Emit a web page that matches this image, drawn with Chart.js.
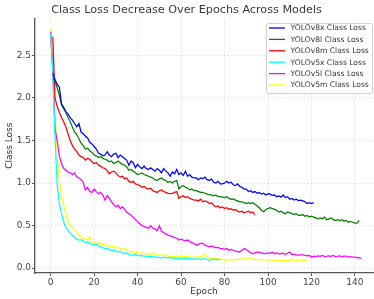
<!DOCTYPE html>
<html>
<head>
<meta charset="utf-8">
<script src="https://cdn.jsdelivr.net/npm/chart.js@4/dist/chart.umd.min.js"></script>
<style>
  html, body { margin: 0; padding: 0; background: #fff; }
  #wrap { width: 374px; height: 299px; }
</style>
</head>
<body>
<div id="wrap"><canvas id="c" width="374" height="299"></canvas></div>
<script>
// ---- Data ----
const seriesNames = ["YOLOv8x Class Loss", "YOLOv8l Class Loss", "YOLOv8m Class Loss",
                     "YOLOv5x Class Loss", "YOLOv5l Class Loss", "YOLOv5m Class Loss"];
const seriesColors = ["blue", "green", "red", "cyan", "magenta", "yellow"];
const firstEpoch = [1, 1, 1, 0, 0, 0];

const yolov8x = [2.29,2.22,2.16,2.13,1.93,1.89,1.84,1.81,1.77,1.74,1.70,1.66,1.70,1.60,1.58,1.55,1.53,1.48,1.46,1.43,
  1.40,1.35,1.34,1.32,1.33,1.37,1.33,1.31,1.34,1.35,1.30,1.33,1.31,1.29,1.27,1.21,1.26,1.24,1.18,1.22,
  1.19,1.17,1.20,1.17,1.16,1.18,1.16,1.14,1.17,1.15,1.12,1.17,1.14,1.12,1.08,1.13,1.11,1.16,1.10,1.12,
  1.09,1.14,1.08,1.10,1.07,1.06,1.06,1.04,1.06,1.05,1.07,1.04,1.03,1.05,1.01,1.00,1.02,0.99,0.99,1.00,
  1.02,1.00,1.01,0.98,0.97,0.99,0.96,0.95,0.93,0.93,0.90,0.91,0.89,0.90,0.88,0.89,0.87,0.88,0.86,0.875,
  0.87,0.855,0.86,0.84,0.85,0.835,0.86,0.83,0.84,0.81,0.82,0.80,0.81,0.795,0.80,0.79,0.78,0.76,0.77,0.76,0.77];
const yolov8l = [2.23,2.20,2.12,2.03,1.92,1.87,1.83,1.77,1.72,1.66,1.60,1.57,1.52,1.47,1.44,1.40,1.41,1.38,1.36,1.33,
  1.32,1.30,1.31,1.29,1.28,1.27,1.25,1.26,1.23,1.24,1.26,1.24,1.22,1.21,1.19,1.15,1.16,1.14,1.12,1.10,
  1.11,1.12,1.10,1.09,1.08,1.07,1.06,1.04,1.03,1.05,1.06,1.04,1.03,1.01,1.02,1.00,1.02,1.03,0.93,0.96,
  0.97,0.95,0.94,0.92,0.93,0.91,0.91,0.90,0.89,0.89,0.88,0.87,0.86,0.86,0.85,0.86,0.84,0.84,0.835,0.83,
  0.84,0.82,0.81,0.815,0.80,0.79,0.78,0.78,0.77,0.76,0.77,0.76,0.77,0.75,0.73,0.71,0.68,0.66,0.69,0.70,
  0.71,0.70,0.69,0.68,0.66,0.67,0.65,0.64,0.66,0.65,0.64,0.63,0.64,0.62,0.62,0.63,0.61,0.62,0.60,0.61,
  0.60,0.59,0.58,0.59,0.58,0.60,0.57,0.58,0.59,0.57,0.56,0.57,0.56,0.57,0.55,0.56,0.54,0.55,0.54,0.53,
  0.53,0.56];
const yolov8m = [2.72,2.00,1.90,1.83,1.77,1.72,1.66,1.58,1.50,1.44,1.40,1.37,1.33,1.31,1.30,1.27,1.29,1.28,1.25,1.23,
  1.24,1.21,1.20,1.18,1.17,1.15,1.11,1.13,1.14,1.12,1.09,1.07,1.08,1.05,1.06,1.02,1.01,1.02,0.99,0.98,
  0.97,0.95,0.96,0.94,0.93,0.94,0.91,0.90,0.89,0.91,0.92,0.90,0.89,0.88,0.875,0.88,0.89,0.90,0.82,0.84,
  0.85,0.83,0.84,0.82,0.81,0.80,0.80,0.79,0.81,0.78,0.79,0.78,0.76,0.77,0.74,0.72,0.73,0.71,0.72,0.70,
  0.71,0.69,0.70,0.68,0.69,0.67,0.66,0.67,0.65,0.66,0.67,0.65,0.66,0.63];
const yolov5x = [2.76,2.30,1.55,0.98,0.76,0.64,0.54,0.48,0.44,0.41,0.39,0.36,0.34,0.33,0.335,0.32,0.30,0.31,0.29,0.28,
  0.27,0.28,0.26,0.25,0.24,0.23,0.235,0.22,0.21,0.215,0.20,0.19,0.20,0.18,0.17,0.18,0.16,0.155,0.15,0.16,
  0.15,0.145,0.15,0.14,0.145,0.135,0.14,0.13,0.135,0.13,0.125,0.12,0.13,0.125,0.12,0.125,0.115,0.12,0.11,0.12,
  0.115,0.11,0.12,0.11,0.115,0.10,0.11,0.105,0.11,0.10,0.105,0.11,0.10,0.095,0.10,0.105,0.10,0.10,0.105];
const yolov5l = [2.78,2.30,1.64,1.50,1.32,1.23,1.17,1.15,1.13,1.12,1.10,1.12,1.07,1.06,1.04,1.01,0.92,0.95,0.90,0.89,
  0.93,0.90,0.875,0.89,0.86,0.80,0.855,0.82,0.78,0.75,0.72,0.74,0.70,0.72,0.69,0.66,0.64,0.62,0.60,0.57,
  0.55,0.52,0.50,0.49,0.48,0.47,0.50,0.47,0.46,0.44,0.50,0.43,0.42,0.40,0.39,0.38,0.37,0.36,0.35,0.33,
  0.34,0.33,0.32,0.33,0.31,0.30,0.29,0.27,0.28,0.29,0.29,0.27,0.26,0.25,0.26,0.25,0.24,0.245,0.23,0.23,
  0.22,0.23,0.21,0.22,0.21,0.20,0.195,0.19,0.21,0.23,0.22,0.20,0.18,0.17,0.18,0.19,0.185,0.18,0.17,0.17,
  0.18,0.175,0.19,0.17,0.18,0.165,0.17,0.175,0.16,0.175,0.19,0.16,0.165,0.155,0.15,0.16,0.155,0.15,0.145,0.15,
  0.13,0.14,0.135,0.145,0.14,0.15,0.135,0.14,0.145,0.14,0.15,0.135,0.14,0.145,0.135,0.14,0.14,0.13,0.135,0.13,
  0.13,0.125,0.12,0.115];
const yolov5m = [2.80,2.40,1.85,1.35,1.02,0.86,0.74,0.64,0.54,0.50,0.48,0.45,0.43,0.39,0.37,0.35,0.34,0.33,0.37,0.31,
  0.30,0.29,0.30,0.28,0.285,0.27,0.27,0.26,0.25,0.26,0.24,0.245,0.23,0.22,0.235,0.21,0.20,0.19,0.19,0.18,
  0.185,0.17,0.18,0.175,0.165,0.17,0.16,0.175,0.16,0.155,0.15,0.155,0.145,0.16,0.14,0.135,0.14,0.13,0.145,0.14,
  0.135,0.14,0.13,0.145,0.13,0.125,0.13,0.125,0.14,0.13,0.15,0.17,0.13,0.12,0.115,0.11,0.115,0.11,0.105,0.10,
  0.095,0.095,0.10,0.10,0.095,0.10,0.105,0.10,0.11,0.10,0.11,0.125,0.11,0.10,0.105,0.10,0.095,0.10,0.10,0.095,
  0.10,0.095,0.10,0.09,0.095,0.09,0.085,0.09,0.085,0.095,0.09,0.11,0.095,0.09,0.10,0.095,0.09,0.095,0.095];

const seriesValues = [yolov8x, yolov8l, yolov8m, yolov5x, yolov5l, yolov5m];
const xTickValues = [0, 20, 40, 60, 80, 100, 120, 140];
const yTickValues = [0.0, 0.5, 1.0, 1.5, 2.0, 2.5];

// ---- Build datasets ----
const datasets = seriesValues.map((vals, i) => ({
  label: seriesNames[i],
  data: vals.map((v, k) => ({ x: firstEpoch[i] + k, y: v })),
  borderColor: seriesColors[i],
  backgroundColor: seriesColors[i],
  borderWidth: 1.25,
  pointRadius: 0,
  tension: 0,
  fill: false
}));

const FONT = "'DejaVu Sans', sans-serif";

const mplLegend = {
  id: 'mplLegend',
  afterDraw(chart) {
    const ctx = chart.ctx;
    const ds = chart.data.datasets;
    const x0 = 266, y0 = 23, w = 107, rowH = 11.4, h = 70;
    ctx.save();
    ctx.beginPath();
    if (ctx.roundRect) ctx.roundRect(x0 + 0.5, y0 + 0.5, w - 1, h, 2); else ctx.rect(x0 + 0.5, y0 + 0.5, w - 1, h);
    ctx.fillStyle = 'rgba(255,255,255,0.8)';
    ctx.fill();
    ctx.strokeStyle = '#d0d0d0';
    ctx.lineWidth = 1;
    ctx.stroke();
    ctx.font = "7.6px " + FONT;
    ctx.textBaseline = 'middle';
    ctx.textAlign = 'left';
    ds.forEach((d, i) => {
      const y = y0 + 5 + rowH * i;
      ctx.beginPath();
      ctx.moveTo(x0 + 3, y);
      ctx.lineTo(x0 + 19, y);
      ctx.strokeStyle = d.borderColor;
      ctx.lineWidth = 1.3;
      ctx.stroke();
      ctx.fillStyle = '#333';
      ctx.fillText(d.label, x0 + 24.5, y + 0.5);
    });
    ctx.restore();
  }
};

new Chart(document.getElementById('c'), {
  type: 'line',
  data: { datasets },
  options: {
    responsive: false,
    animation: false,
    devicePixelRatio: 1,
    layout: { padding: { top: 0, right: 1, bottom: 0, left: 0 } },
    plugins: {
      legend: { display: false },
      tooltip: { enabled: false },
      title: {
        display: true,
        text: 'Class Loss Decrease Over Epochs Across Models',
        color: '#3a3a3a',
        font: { family: FONT, size: 11.2, weight: 'normal' },
        padding: { top: 3, bottom: 2 }
      }
    },
    scales: {
      x: {
        type: 'linear',
        min: -7.2, max: 148.3,
        afterFit(s) { s.height = 26; },
        afterBuildTicks(s) { s.ticks = xTickValues.map(v => ({ value: v })); },
        ticks: { color: '#444', font: { family: FONT, size: 9 }, padding: 1, maxRotation: 0,
                 callback: v => String(v) },
        grid: { color: 'rgba(0,0,0,0.13)', lineWidth: 0.8, tickColor: '#555', tickLength: 3, tickWidth: 1 },
        border: { display: true, color: '#555', width: 1.3, dash: [2, 2] },
        title: { display: true, text: 'Epoch', color: '#333', font: { family: FONT, size: 9 },
                 padding: { top: 0, bottom: 1.6 } }
      },
      y: {
        type: 'linear',
        min: -0.057, max: 2.935,
        afterFit(s) { s.width = 35; },
        afterBuildTicks(s) { s.ticks = yTickValues.map(v => ({ value: v })); },
        ticks: { color: '#444', font: { family: FONT, size: 9 }, padding: 1,
                 callback: v => Number(v).toFixed(1) },
        grid: { color: 'rgba(0,0,0,0.13)', lineWidth: 0.8, tickColor: '#555', tickLength: 3, tickWidth: 1 },
        border: { display: true, color: '#555', width: 1.3, dash: [2, 2] },
        title: { display: true, text: 'Class Loss', color: '#333', font: { family: FONT, size: 9 },
                 padding: { top: 4.6, bottom: 0 } }
      }
    }
  },
  plugins: [mplLegend]
});
</script>
</body>
</html>
